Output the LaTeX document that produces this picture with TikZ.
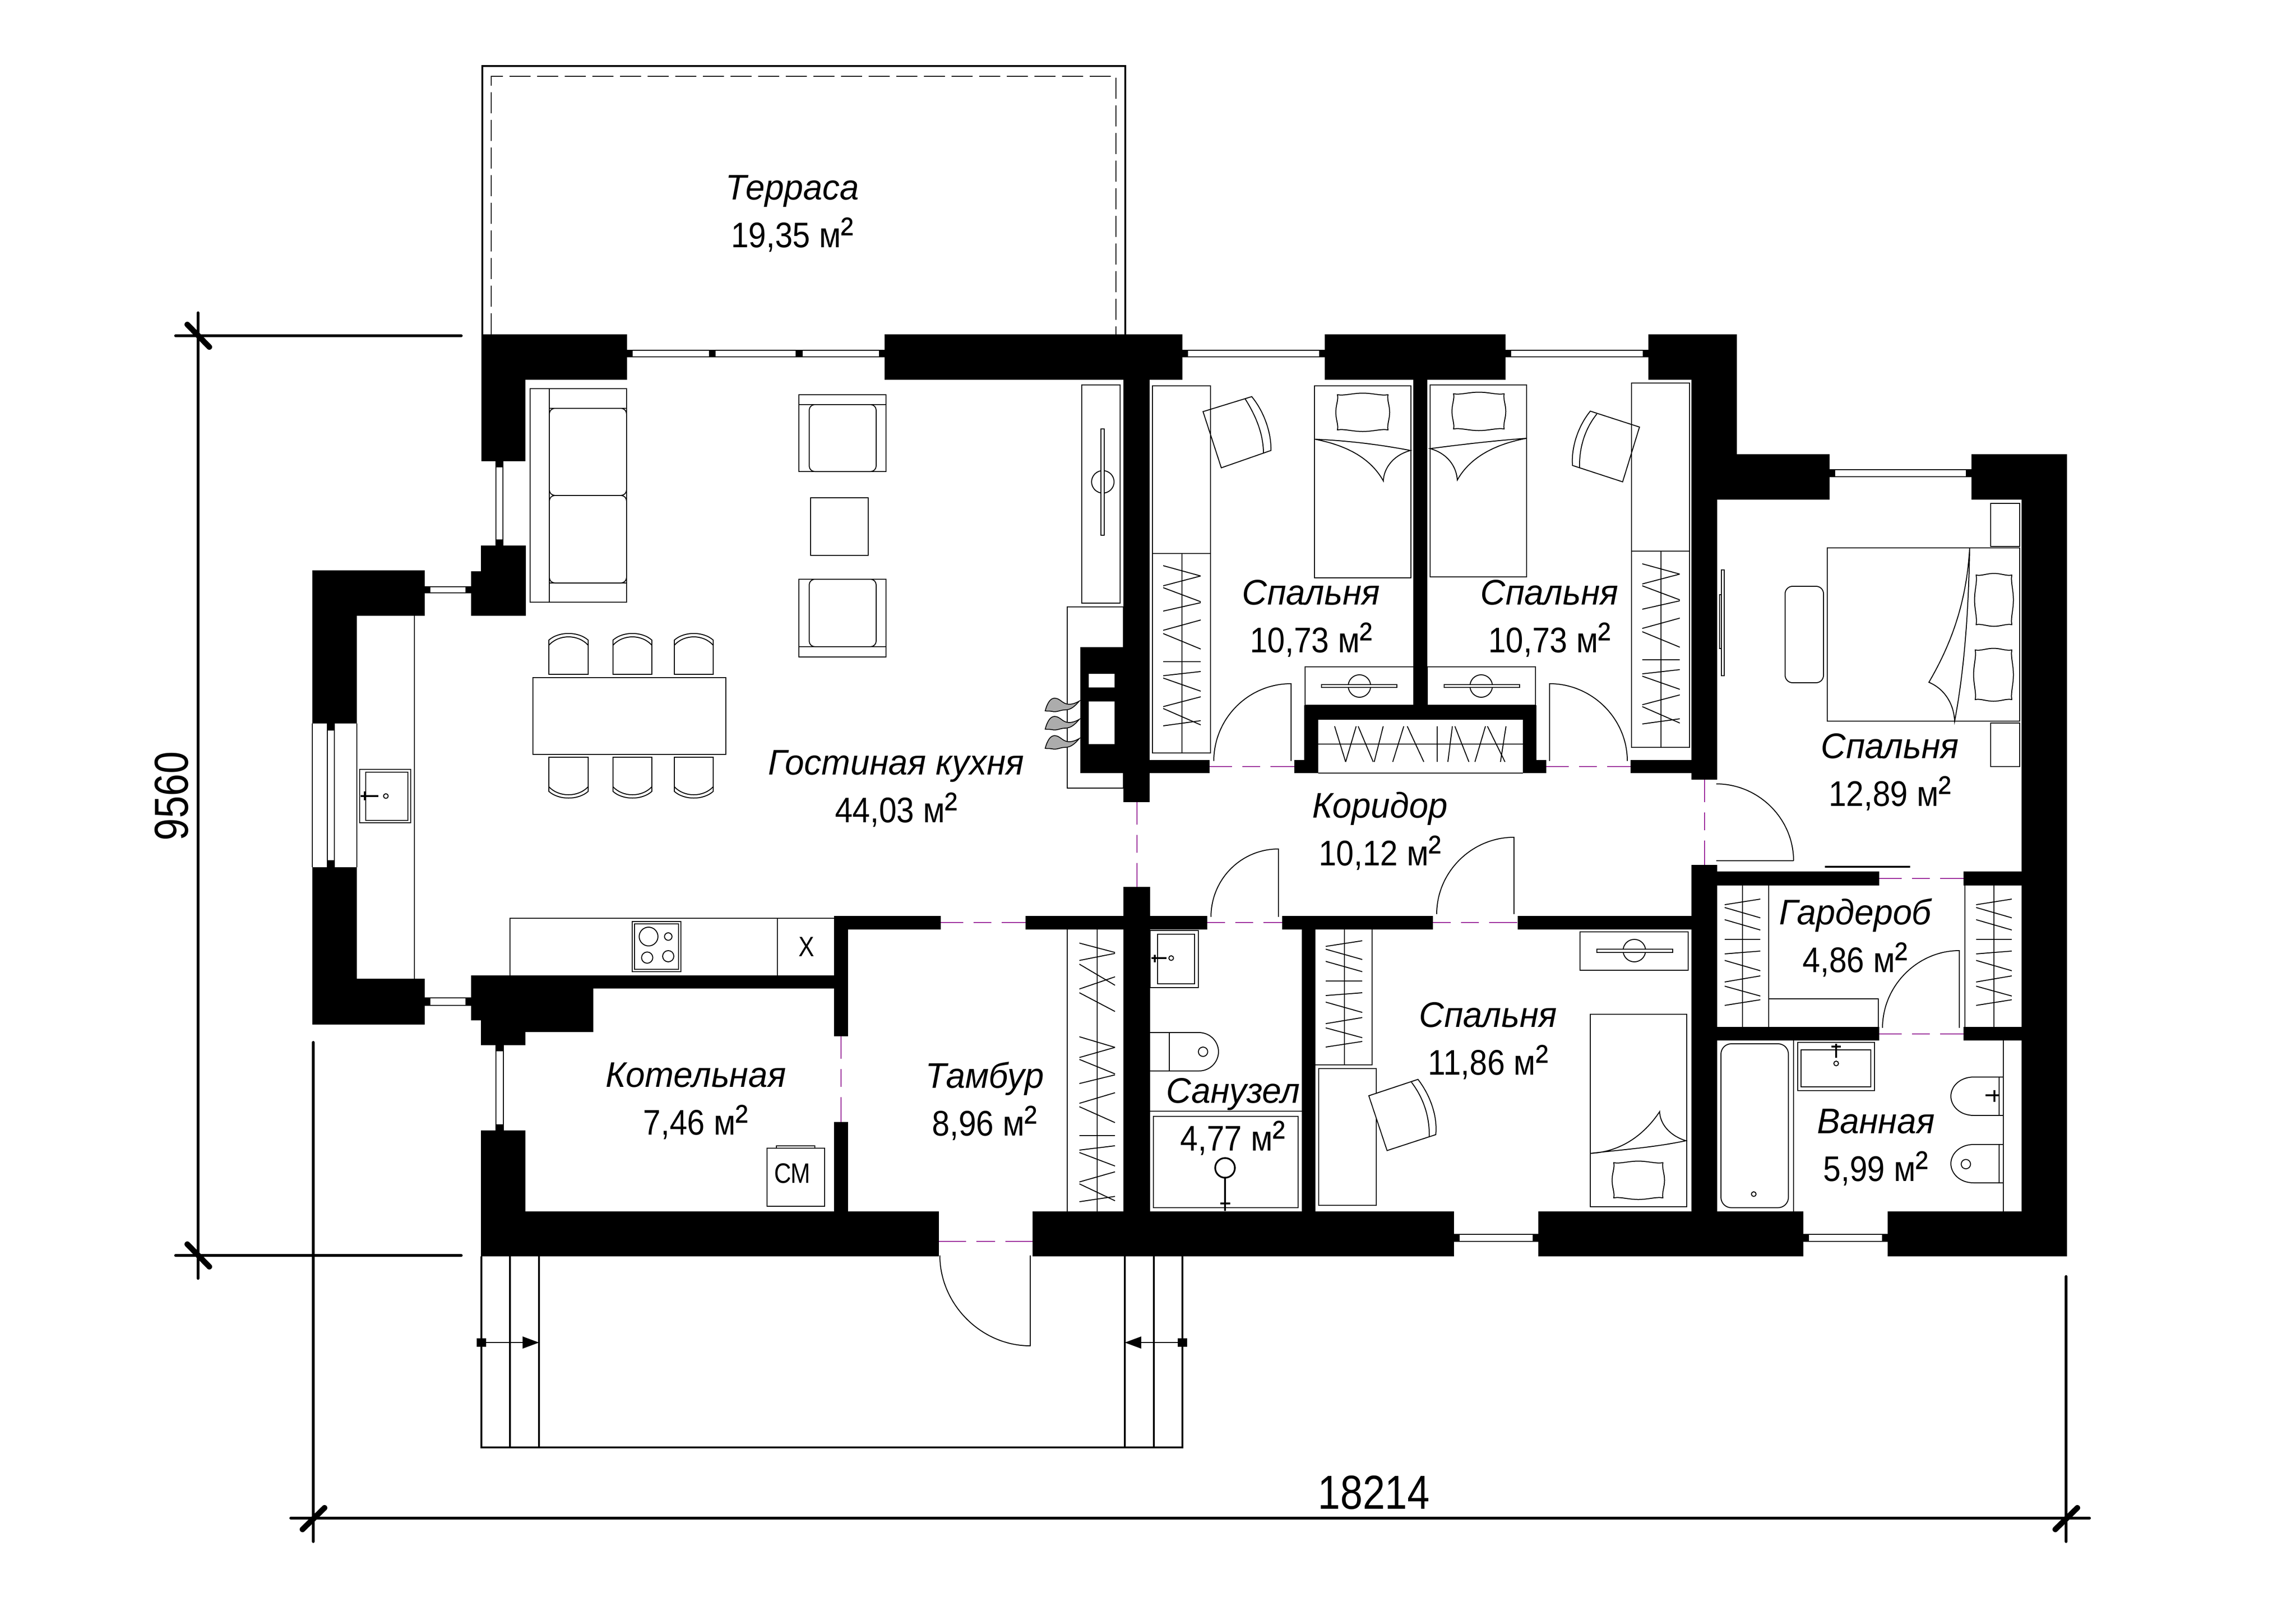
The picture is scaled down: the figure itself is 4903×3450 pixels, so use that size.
\documentclass[tikz,border=0pt]{standalone}
\usepackage{fontspec}
\setmainfont{Liberation Sans}
\newfontfamily\labf[FakeStretch=0.97]{Liberation Sans}
\newfontfamily\labm[FakeStretch=0.89]{Liberation Sans}
\newfontfamily\labn[FakeStretch=0.84]{Liberation Sans}
\newcommand\sq{{\fontsize{92}{102}\selectfont ²}}
\newcommand\wall[4]{\fill[black] (#1,#2) rectangle (#3,#4);}
\def\hangA{0/22,43/22,47/77,97/79,138/116,145/178,205/205,235/226,240/268,301/280,305/340,342/331}
\def\hangB{12/0,18/40,44/66,86/86,117/111,131/153,177/164,186/207,227/215}
\def\hangC{0/20,37/22,45/90,98/72,106/146}
\newcommand\hangV[5]{\foreach \a/\b in #5 {\draw[thinl] ({#1-#4},{#2+\a*#3}) -- ({#1+#4},{#2+\b*#3});}}
\newcommand\hangH[5]{\foreach \a/\b in #5 {\draw[thinl] ({#1+\a*#3},{#2-#4}) -- ({#1+\b*#3},{#2+#4});}}
\newcommand\pillow[4]{\draw[thinl] (#1,#2)
 .. controls ({#1+(#3-#1)*.14},{#2+2.5}) and ({#1+(#3-#1)*.3},{#2-3.5}) .. ({(#1+#3)/2},{#2-3.5})
 .. controls ({#3-(#3-#1)*.3},{#2-3.5}) and ({#3-(#3-#1)*.14},{#2+2.5}) .. (#3,#2)
 .. controls ({#3-2.5},{#2+(#4-#2)*.14}) and ({#3+3.5},{#2+(#4-#2)*.3}) .. ({#3+3.5},{(#2+#4)/2})
 .. controls ({#3+3.5},{#4-(#4-#2)*.3}) and ({#3-2.5},{#4-(#4-#2)*.14}) .. (#3,#4)
 .. controls ({#3-(#3-#1)*.14},{#4-2.5}) and ({#3-(#3-#1)*.3},{#4+3.5}) .. ({(#1+#3)/2},{#4+3.5})
 .. controls ({#1+(#3-#1)*.3},{#4+3.5}) and ({#1+(#3-#1)*.14},{#4-2.5}) .. (#1,#4)
 .. controls ({#1+2.5},{#4-(#4-#2)*.14}) and ({#1-3.5},{#4-(#4-#2)*.3}) .. ({#1-3.5},{(#2+#4)/2})
 .. controls ({#1-3.5},{#2+(#4-#2)*.3}) and ({#1+2.5},{#2+(#4-#2)*.14}) .. cycle;}
\newcommand\chairT[2]{\draw[thinl] (#1,1440) -- (#1,1367) .. controls ({#1+(#2-#1)*.25},1348) and ({#2-(#2-#1)*.25},1348) .. (#2,1367) -- (#2,1440) -- cycle; \draw[thinl] (#1,1378) .. controls ({#1+(#2-#1)*.25},1354) and ({#2-(#2-#1)*.25},1354) .. (#2,1378);}
\newcommand\chairB[2]{\draw[thinl] (#1,1617) -- (#1,1690) .. controls ({#1+(#2-#1)*.25},1709) and ({#2-(#2-#1)*.25},1709) .. (#2,1690) -- (#2,1617) -- cycle; \draw[thinl] (#1,1680) .. controls ({#1+(#2-#1)*.25},1703) and ({#2-(#2-#1)*.25},1703) .. (#2,1680);}
\newcommand\flame[1]{\begin{scope}[shift={(2232,#1)}]\draw[line width=1.8pt,fill=gray!65] (0,27) .. controls (5,8) and (12,0) .. (20,0) .. controls (32,0) and (36,12) .. (50,13) .. controls (60,13) and (68,9) .. (73,6) .. controls (64,16) and (56,25) .. (42,25) .. controls (32,25) and (24,31) .. (14,28) .. controls (8,27) and (4,28) .. (0,27) -- cycle;\end{scope}}
\newcommand\winH[4]{% x1 x2 ytop ybot
  \fill[white] (#1,#3) rectangle (#2,#4); \draw[thinl] (#1,#3) -- (#2,#3) (#1,#4) -- (#2,#4);
  \fill[black] (#1,#3) rectangle ({#1+12},#4); \fill[black] ({#2-12},#3) rectangle (#2,#4);}
\newcommand\winV[4]{% y1 y2 xl xr
  \fill[white] (#3,#1) rectangle (#4,#2); \draw[thinl] (#3,#1) -- (#3,#2) (#4,#1) -- (#4,#2);
  \fill[black] (#3,#1) rectangle (#4,{#1+13}); \fill[black] (#3,{#2-13}) rectangle (#4,#2);}
\definecolor{magline}{RGB}{150,30,150}
\tikzset{
  thinl/.style={line width=2pt,draw=black},
  heavy/.style={line width=3.6pt,draw=black},
  magA/.style={line width=2.2pt,draw=magline,dash pattern=on 38pt off 22pt on 38pt off 22pt on 60pt},
  magB/.style={line width=2.2pt,draw=magline,dash pattern=on 48pt off 22pt on 38pt off 22pt on 70pt},
  magC/.style={line width=2.2pt,draw=magline,dash pattern=on 58pt off 22pt on 40pt off 22pt on 80pt},
  slash/.style={line width=12pt,draw=black,line cap=round},
  dimline/.style={line width=6pt,draw=black,line cap=round},
  roomlabel/.style={inner sep=0pt,align=center,font=\labf\fontsize{76}{102}\selectfont},
  dimlabel/.style={inner sep=0pt,font=\labn\fontsize{102}{120}\selectfont},
  smalllabel/.style={inner sep=0pt,font=\labn\fontsize{60}{70}\selectfont},
}
\begin{document}
\begin{tikzpicture}[x=1pt,y=-1pt]
\useasboundingbox (0,0) rectangle (4903,3450);
\fill[white] (0,0) rectangle (4903,3450);
% terrace
\draw[heavy] (1030,714) -- (1030,141) -- (2403,141) -- (2403,714);
\draw[thinl,dash pattern=on 45pt off 14pt] (1049,714) -- (1049,163) -- (2383,163) -- (2383,714);
% porch
\draw[heavy] (1028,2683) -- (1028,3091) -- (2525,3091) -- (2525,2683);
\draw[heavy] (1089,2683) -- (1089,3091) (1151,2683) -- (1151,3091) (2402,2683) -- (2402,3091) (2464,2683) -- (2464,3091);
\draw[thinl] (1028,2867) -- (1151,2867) (2402,2867) -- (2525,2867);
\fill[black] (1018,2858) rectangle (1038,2876) (2515,2858) rectangle (2535,2876);
\fill[black] (1116,2854) -- (1151,2867) -- (1116,2880) -- cycle (2437,2854) -- (2402,2867) -- (2437,2880) -- cycle;
% entrance door
\draw[thinl] (2200,2681) -- (2200,2874) .. controls (2095,2874) and (2007,2785) .. (2007,2681);
% dimensions
\draw[dimline] (423,668) -- (423,2730);
\draw[dimline] (375,717) -- (985,717) (375,2681) -- (985,2681);
\draw[slash] (400,693) -- (447,741) (400,2657) -- (447,2705);
\draw[dimline] (669,2226) -- (669,3292) (4412,2726) -- (4412,3292);
\draw[dimline] (621,3242) -- (4462,3242);
\draw[slash] (646,3266) -- (693,3220) (4389,3266) -- (4436,3220);
\node[dimlabel,rotate=90] (dimv) at (366,1700) {9560};
\node[dimlabel] (dimh) at (2934,3187) {18214};
% bay worktop + sink
\draw[thinl] (885,1315) -- (885,2090);
\draw[thinl] (768,1643) rectangle (877,1757) (781,1649) rectangle (871,1752);
\draw[heavy] (770,1700) -- (808,1700) (779,1690) -- (779,1709);
\draw[thinl] (824,1700) circle (5);
% sofa
\draw[thinl] (1132,830) rectangle (1338,1286) (1173,830) -- (1173,1286) (1173,872) -- (1338,872) (1173,1245) -- (1338,1245);
\draw[thinl,rounded corners=12pt] (1173,872) rectangle (1338,1058) (1173,1058) rectangle (1338,1245);
% armchairs and table
\draw[thinl] (1706,843) rectangle (1892,1007) (1706,864) -- (1892,864);
\draw[thinl,rounded corners=12pt] (1728,864) rectangle (1871,1007);
\draw[thinl] (1706,1237) rectangle (1892,1403) (1706,1381) -- (1892,1381);
\draw[thinl,rounded corners=12pt] (1728,1237) rectangle (1871,1381);
\draw[thinl] (1731,1063) rectangle (1854,1186);
% dining
\draw[thinl] (1138,1447) rectangle (1550,1611);
\chairT{1172}{1256}\chairT{1309}{1392}\chairT{1440}{1523}
\chairB{1172}{1256}\chairB{1309}{1392}\chairB{1440}{1523}
% TV living
\draw[thinl] (2310,822) rectangle (2392,1288);
\draw[thinl] (2355,1029) circle (24);
\draw[thinl,fill=white] (2351,916) rectangle (2358,1143);
% fireplace
\draw[thinl] (2279,1296) rectangle (2399,1683);
\fill[black] (2307,1382) rectangle (2399,1651);
\fill[white] (2325,1439) rectangle (2380,1468) (2325,1498) rectangle (2380,1589);
\flame{1491}\flame{1530}\flame{1571}
% bedroom 1 furniture
\draw[thinl] (2461,824) rectangle (2585,1608) (2461,1182) -- (2585,1182) (2524,1182) -- (2524,1608);
\hangV{2524}{1208}{1}{40}{\hangA}
\draw[thinl] (2807,824) rectangle (3013,1234);
\pillow{2856}{843}{2964}{918}
\draw[thinl] (2808,938) .. controls (2880,941) and (2950,950) .. (3012,962) .. controls (2975,972) and (2955,1000) .. (2954,1027) .. controls (2925,975) and (2870,950) .. (2808,938);
\draw[thinl] (2569,879) -- (2673,847) .. controls (2700,880) and (2715,925) .. (2714,962) -- (2608,999) -- cycle;
\draw[thinl] (2659,852) .. controls (2680,885) and (2698,925) .. (2698,968);
% bedroom 2 furniture
\draw[thinl] (3484,818) rectangle (3608,1596) (3484,1177) -- (3608,1177) (3547,1177) -- (3547,1596);
\hangV{3547}{1204}{1}{40}{\hangA}
\draw[thinl] (3054,822) rectangle (3260,1232);
\pillow{3104}{841}{3212}{916}
\draw[thinl] (3260,936) .. controls (3190,941) and (3115,950) .. (3054,958) .. controls (3090,968) and (3110,995) .. (3112,1025) .. controls (3140,975) and (3195,948) .. (3260,936);
\draw[thinl] (3501,912) -- (3396,878) .. controls (3370,910) and (3355,955) .. (3358,994) -- (3465,1029) -- cycle;
\draw[thinl] (3410,884) .. controls (3385,915) and (3372,955) .. (3373,999);
% night stands / TVs
\draw[thinl] (2787,1424) rectangle (3019,1506) (3048,1424) rectangle (3279,1506);
\draw[thinl] (2903,1465) circle (24) (3163,1465) circle (24);
\draw[thinl,fill=white] (2822,1462) rectangle (2983,1468) (3084,1462) rectangle (3245,1468);
% closet
\draw[thinl] (2815,1651) -- (3252,1651) (2815,1589) -- (3252,1589);
\hangH{2850}{1589}{1.07}{38}{\hangA}
% doors
\draw[thinl] (2757,1625) -- (2757,1460) .. controls (2665,1460) and (2592,1535) .. (2592,1625);
\draw[thinl] (3309,1625) -- (3309,1460) .. controls (3400,1460) and (3475,1535) .. (3475,1625);
\draw[thinl] (3830,1838) -- (3665,1838) (3665,1674) .. controls (3755,1674) and (3830,1748) .. (3830,1838);
\draw[thinl] (2730,1958) -- (2730,1813) .. controls (2650,1813) and (2586,1878) .. (2586,1958);
\draw[thinl] (3233,1952) -- (3233,1788) .. controls (3143,1788) and (3068,1862) .. (3068,1952);
\draw[thinl] (4184,2195) -- (4184,2030) .. controls (4095,2030) and (4020,2105) .. (4020,2195);
\draw[heavy] (3897,1851) -- (4079,1851);
% master bedroom
\draw[thinl] (3902,1170) rectangle (4313,1540);
\draw[thinl] (4206,1170) .. controls (4204,1300) and (4195,1430) .. (4174,1540) .. controls (4172,1500) and (4150,1470) .. (4119,1457) .. controls (4170,1370) and (4200,1280) .. (4206,1170);
\draw[thinl,rounded corners=16pt] (3812,1252) rectangle (3894,1458);
\draw[thinl] (4251,1075) rectangle (4313,1167) (4251,1544) rectangle (4313,1637);
\pillow{4220}{1228}{4296}{1334}\pillow{4218}{1388}{4296}{1494}
\draw[thinl] (3676,1217) rectangle (3682,1443) (3672,1270) rectangle (3676,1385);
% garderobe
\draw[thinl] (3721,1891) -- (3721,2193) (3777,1891) -- (3777,2193);
\draw[thinl] (3777,2133) -- (4011,2133) -- (4011,2193);
\hangV{3721}{1920}{1}{38}{\hangB}
\draw[thinl] (4196,1891) -- (4196,2193) (4258,1891) -- (4258,2193);
\hangV{4258}{1920}{1}{38}{\hangB}
% bathroom
\draw[thinl,rounded corners=22pt] (3675,2229) rectangle (3819,2579);
\draw[thinl] (3745,2550) circle (5);
\draw[thinl] (3830,2222) -- (3830,2587) (4278,2222) -- (4278,2587);
\draw[thinl] (3839,2226) rectangle (4003,2329) (3846,2242) rectangle (3995,2321);
\draw[heavy] (3921,2229) -- (3921,2259) (3911,2235) -- (3931,2235);
\draw[thinl] (3921,2271) circle (5);
\draw[thinl] (4278,2300) -- (4215,2300) .. controls (4185,2300) and (4166,2320) .. (4166,2341) .. controls (4166,2362) and (4185,2382) .. (4215,2382) -- (4278,2382) (4269,2300) -- (4269,2382);
\draw[heavy] (4240,2339) -- (4270,2339) (4259,2328) -- (4259,2353);
\draw[thinl] (4278,2444) -- (4215,2444) .. controls (4185,2444) and (4166,2464) .. (4166,2485) .. controls (4166,2506) and (4185,2526) .. (4215,2526) -- (4278,2526) (4269,2444) -- (4269,2526);
\draw[thinl] (4198,2486) circle (10);
% WC
\draw[thinl] (2456,1987) rectangle (2559,2109) (2472,1995) rectangle (2551,2101);
\draw[heavy] (2459,2046) -- (2491,2046) (2466,2039) -- (2466,2055);
\draw[thinl] (2501,2046) circle (5);
\draw[thinl] (2456,2205) -- (2560,2205) .. controls (2585,2205) and (2602,2225) .. (2602,2246) .. controls (2602,2267) and (2585,2287) .. (2560,2287) -- (2456,2287) (2497,2205) -- (2497,2287);
\draw[thinl] (2569,2246) circle (10);
\draw[thinl] (2456,2373) -- (2780,2373) (2463,2384) rectangle (2772,2579);
\draw[heavy] (2616,2494) circle (21) (2616,2515) -- (2616,2586) (2606,2570) -- (2627,2570);
% tambur wardrobe
\draw[thinl] (2279,1985) -- (2279,2587) (2343,1985) -- (2343,2587);
\hangV{2343}{2014}{1}{38}{\hangC}
\hangV{2343}{2214}{1.03}{38}{\hangA}
% bedroom 11.86
\draw[thinl] (2809,2274) -- (2930,2274) -- (2930,1985) (2871,1985) -- (2871,2274);
\hangV{2870}{2009}{1}{39}{\hangB}
\draw[thinl] (2816,2282) rectangle (2939,2574);
\draw[thinl,fill=white] (2923,2340) -- (3028,2305) .. controls (3055,2340) and (3070,2385) .. (3066,2423) -- (2962,2457) -- cycle;
\draw[thinl] (3014,2311) .. controls (3040,2345) and (3053,2385) .. (3052,2427);
\draw[thinl] (3374,1990) rectangle (3605,2072);
\draw[thinl] (3490,2030) circle (24);
\draw[thinl,fill=white] (3410,2027) rectangle (3572,2034);
\draw[thinl] (3396,2166) rectangle (3602,2577);
\pillow{3446}{2483}{3551}{2558}
\draw[thinl] (3396,2463) .. controls (3465,2455) and (3535,2450) .. (3600,2436) .. controls (3565,2425) and (3545,2400) .. (3544,2374) .. controls (3510,2425) and (3460,2460) .. (3396,2463);
% kitchen
\draw[thinl] (1089,2083) -- (1089,1961) -- (1781,1961) (1660,1961) -- (1660,2083);
\node[smalllabel] (xlab) at (1722,2022) {Х};
\draw[thinl] (1350,1968) rectangle (1454,2075) (1355,1973) rectangle (1449,2070);
\draw[thinl] (1385,2000) circle (20) (1427,2000) circle (8) (1382,2045) circle (12) (1427,2042) circle (12);
% washer
\draw[thinl] (1638,2452) rectangle (1761,2576) (1658,2447) rectangle (1740,2452);
\node[smalllabel] (cmlab) at (1692,2506) {СМ};
% magenta door gaps
\draw[magB] (2583,1637) -- (2764,1637);
\draw[magB] (3302,1637) -- (3482,1637);
\draw[magB] (2428,1713) -- (2428,1894);
\draw[magB] (3640,1665) -- (3640,1847);
\draw[magB] (2009,1970) -- (2190,1970);
\draw[magA] (2578,1970) -- (2738,1970);
\draw[magA] (3060,1970) -- (3241,1970);
\draw[magB] (4013,1876) -- (4193,1876);
\draw[magB] (4013,2208) -- (4193,2208);
\draw[magB] (1796,2213) -- (1796,2396);
\draw[magC] (2005,2651) -- (2205,2651);
% windows
\winH{1339}{1889}{748}{762}
\fill[black] (1514,748) rectangle (1528,762) (1699,748) rectangle (1714,762);
\winH{2525}{2829}{748}{762}
\winH{3215}{3520}{748}{762}
\winH{3907}{4210}{1003}{1018}
\winH{3851}{4031}{2636}{2651}
\winH{3105}{3285}{2636}{2651}
\winH{907}{1006}{1253}{1266}
\winH{907}{1006}{2131}{2147}
\winV{985}{1165}{1059}{1074}
\winV{2232}{2414}{1059}{1075}
\winV{1545}{1852}{699}{714}
\draw[thinl] (667,1545) -- (667,1852) (762,1545) -- (762,1852);
% walls
\wall{1028}{714}{1339}{811}
\wall{1889}{714}{2525}{811}
\wall{2829}{714}{3215}{811}
\wall{3520}{714}{3709}{811}
\wall{3612}{714}{3709}{1067}
\wall{3612}{970}{3907}{1067}
\wall{4210}{970}{4414}{1067}
\wall{4317}{970}{4414}{2683}
\wall{3612}{1067}{3667}{1665}
\wall{3612}{1847}{3667}{2588}
\wall{3667}{1861}{4013}{1891}
\wall{4193}{1861}{4317}{1891}
\wall{3667}{2193}{4013}{2222}
\wall{4193}{2193}{4317}{2222}
\wall{1027}{2587}{2005}{2683}
\wall{2205}{2587}{3105}{2683}
\wall{3285}{2587}{3851}{2683}
\wall{4031}{2587}{4414}{2683}
\wall{2399}{811}{2455}{1713}
\wall{2399}{1894}{2456}{2587}
\wall{2190}{1956}{2578}{1985}
\wall{2738}{1956}{3060}{1985}
\wall{3241}{1956}{3612}{1985}
\wall{1781}{1956}{2009}{1985}
\wall{1781}{1956}{1811}{2213}
\wall{1781}{2396}{1811}{2587}
\wall{1006}{2083}{1781}{2111}
\wall{1006}{2083}{1027}{2179}
\wall{1027}{2083}{1267}{2204}
\wall{1027}{2083}{1122}{2232}
\wall{1027}{2414}{1122}{2587}
\wall{667}{1218}{907}{1315}
\wall{667}{1315}{762}{1545}
\wall{667}{1852}{762}{2090}
\wall{667}{2090}{907}{2188}
\wall{1006}{1220}{1123}{1315}
\wall{1027}{1165}{1123}{1220}
\wall{1028}{811}{1122}{985}
\wall{2780}{1985}{2809}{2587}
\wall{3018}{811}{3048}{1509}
\wall{2785}{1506}{3281}{1537}
\wall{2785}{1537}{2815}{1651}
\wall{2764}{1623}{2815}{1651}
\wall{3252}{1537}{3281}{1651}
\wall{3252}{1623}{3302}{1651}
\wall{2455}{1623}{2583}{1651}
\wall{3482}{1623}{3614}{1651}
\fill[black] (699,1545) rectangle (714,1560) (699,1837) rectangle (714,1852);
% labels
\node[roomlabel] (terrasa) at (1692,456) {\itshape Терраса\\\labm 19,35 м\sq};
\node[roomlabel] (gost) at (1914,1684) {\itshape Гостиная кухня\\\labm 44,03 м\sq};
\node[roomlabel] (bed1) at (2800,1321) {\itshape Спальня\\\labm 10,73 м\sq};
\node[roomlabel] (bed2) at (3309,1321) {\itshape Спальня\\\labm 10,73 м\sq};
\node[roomlabel] (korid) at (2947,1775) {\itshape Коридор\\\labm 10,12 м\sq};
\node[roomlabel] (bed3) at (4036,1649) {\itshape Спальня\\\labm 12,89 м\sq};
\node[roomlabel] (garder) at (3962,2002) {\itshape Гардероб\\\labm 4,86 м\sq};
\node[roomlabel] (vann) at (4006,2450) {\itshape Ванная\\\labm 5,99 м\sq};
\node[roomlabel] (sanuz) at (2633,2385) {\itshape Санузел\\\labm 4,77 м\sq};
\node[roomlabel] (bed4) at (3178,2223) {\itshape Спальня\\\labm 11,86 м\sq};
\node[roomlabel] (kotel) at (1486,2351) {\itshape Котельная\\\labm 7,46 м\sq};
\node[roomlabel] (tambur) at (2103,2351) {\itshape Тамбур\\\labm 8,96 м\sq};
\end{tikzpicture}
\end{document}
